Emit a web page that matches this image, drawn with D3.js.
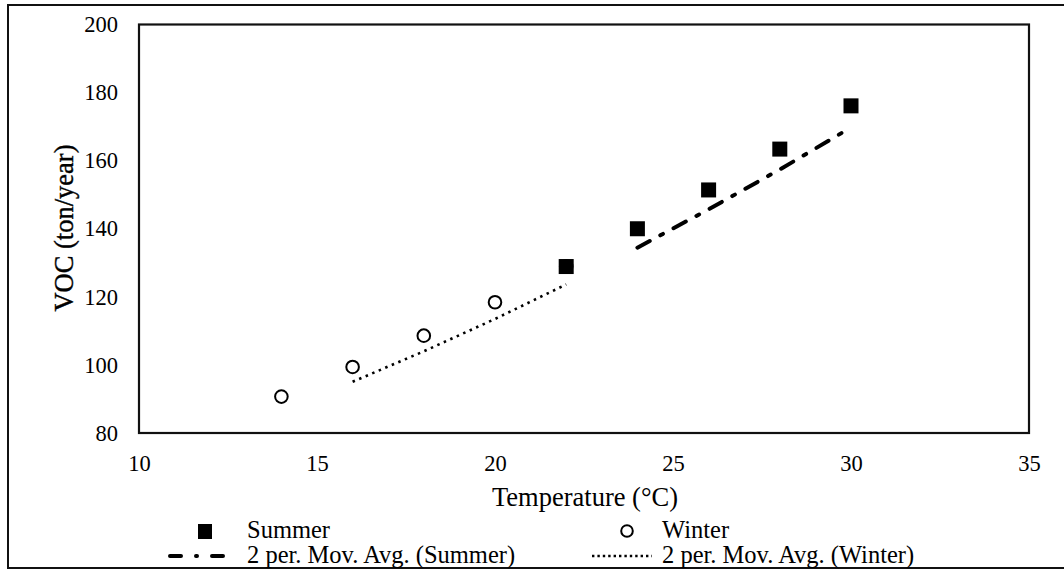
<!DOCTYPE html>
<html>
<head>
<meta charset="utf-8">
<script src="https://cdn.jsdelivr.net/npm/d3@7/dist/d3.min.js"></script>
<style>
  html, body { margin: 0; padding: 0; background: #fff; }
  svg { display: block; }
  text { font-family: "Liberation Serif", "Times New Roman", serif; fill: #000; }
</style>
</head>
<body>
<svg id="chart" width="1064" height="570"></svg>
<script>
// Temperature (°C) and VOC emissions (ton/year)
const summerTemp = [22, 24, 26, 28, 30];
const summerVOC  = [128.9, 140.0, 151.4, 163.4, 176.1];
const winterTemp = [14, 16, 18, 20, 22];
const winterVOC  = [90.7, 99.4, 108.6, 118.4, 128.9];

const xTicks = [10, 15, 20, 25, 30, 35];
const yTicks = [80, 100, 120, 140, 160, 180, 200];

const legendLabels = {
  summer: "Summer",
  winter: "Winter",
  summerAvg: "2 per. Mov. Avg. (Summer)",
  winterAvg: "2 per. Mov. Avg. (Winter)"
};

// two-period moving average, starting at the second point
function movingAvg(xs, ys) {
  const out = [];
  for (let i = 1; i < ys.length; i++) out.push([xs[i], (ys[i] + ys[i - 1]) / 2]);
  return out;
}

const svg = d3.select("#chart");
const plot = { left: 139, right: 1029, top: 24.5, bottom: 433 };

const x = d3.scaleLinear().domain([10, 35]).range([plot.left, plot.right]);
const y = d3.scaleLinear().domain([80, 200]).range([plot.bottom, plot.top]);

// outer frame
svg.append("rect")
  .attr("x", 8).attr("y", 5).attr("width", 1064).attr("height", 563)
  .attr("fill", "none").attr("stroke", "#111").attr("stroke-width", 2);

// plot area frame
svg.append("rect")
  .attr("x", plot.left).attr("y", plot.top)
  .attr("width", plot.right - plot.left).attr("height", plot.bottom - plot.top)
  .attr("fill", "none").attr("stroke", "#111").attr("stroke-width", 2.2);

// axes (labels only, no tick marks)
const yAxis = svg.append("g")
  .attr("transform", `translate(${plot.left},0)`)
  .call(d3.axisLeft(y).tickValues(yTicks).tickSize(0).tickPadding(21).tickFormat(d3.format("d")));
yAxis.select(".domain").remove();
yAxis.selectAll("text")
  .style("font-family", '"Liberation Serif", serif').style("font-size", "22.5px")
  .attr("fill", "#000");

const xAxis = svg.append("g")
  .attr("transform", `translate(0,${plot.bottom})`)
  .call(d3.axisBottom(x).tickValues(xTicks).tickSize(0).tickPadding(22).tickFormat(d3.format("d")));
xAxis.select(".domain").remove();
xAxis.selectAll("text")
  .style("font-family", '"Liberation Serif", serif').style("font-size", "22.5px")
  .attr("fill", "#000");

// axis titles
svg.append("text")
  .attr("x", 585).attr("y", 506)
  .attr("text-anchor", "middle").style("font-size", "26.5px")
  .text("Temperature (°C)");

svg.append("text")
  .attr("transform", `translate(73,228) rotate(-90)`)
  .attr("text-anchor", "middle").style("font-size", "26.5px")
  .style("stroke", "#000").style("stroke-width", 0.4)
  .text("VOC (ton/year)");

const line = d3.line().x(d => x(d[0])).y(d => y(d[1]));

const dashDot = "14,12,3,12";
const dotted = "2.5,4.6";

// moving-average trend lines
svg.append("path")
  .datum(movingAvg(summerTemp, summerVOC))
  .attr("d", line).attr("fill", "none")
  .attr("stroke", "#000").attr("stroke-width", 4)
  .attr("stroke-linecap", "round")
  .attr("stroke-dasharray", dashDot);

svg.append("path")
  .datum(movingAvg(winterTemp, winterVOC))
  .attr("d", line).attr("fill", "none")
  .attr("stroke", "#000").attr("stroke-width", 2.6)
  .attr("stroke-dasharray", dotted);

// winter markers (open circles)
svg.append("g").selectAll("circle")
  .data(winterTemp.map((t, i) => [t, winterVOC[i]]))
  .join("circle")
  .attr("cx", d => x(d[0])).attr("cy", d => y(d[1]))
  .attr("r", 6.3).attr("fill", "#fff")
  .attr("stroke", "#000").attr("stroke-width", 2);

// summer markers (filled squares)
const sq = 15;
svg.append("g").selectAll("rect")
  .data(summerTemp.map((t, i) => [t, summerVOC[i]]))
  .join("rect")
  .attr("x", d => x(d[0]) - sq / 2).attr("y", d => y(d[1]) - sq / 2)
  .attr("width", sq).attr("height", sq).attr("fill", "#000");

// legend
const lg = svg.append("g").style("font-size", "24.5px");
lg.append("rect").attr("x", 198).attr("y", 524).attr("width", 14).attr("height", 15).attr("fill", "#000");
lg.append("text").attr("x", 247).attr("y", 538).text(legendLabels.summer);

lg.append("circle").attr("cx", 627).attr("cy", 531).attr("r", 5.8)
  .attr("fill", "#fff").attr("stroke", "#000").attr("stroke-width", 2);
lg.append("text").attr("x", 662).attr("y", 538).text(legendLabels.winter);

lg.append("line").attr("x1", 170).attr("x2", 229).attr("y1", 556).attr("y2", 556)
  .attr("stroke", "#000").attr("stroke-width", 4).attr("stroke-linecap", "round")
  .attr("stroke-dasharray", "11,15,1,15");
lg.append("text").attr("x", 247).attr("y", 563).text(legendLabels.summerAvg);

lg.append("line").attr("x1", 592).attr("x2", 652).attr("y1", 556).attr("y2", 556)
  .attr("stroke", "#000").attr("stroke-width", 2.6)
  .attr("stroke-dasharray", "2.4,3");
lg.append("text").attr("x", 662).attr("y", 563).text(legendLabels.winterAvg);
</script>
</body>
</html>
